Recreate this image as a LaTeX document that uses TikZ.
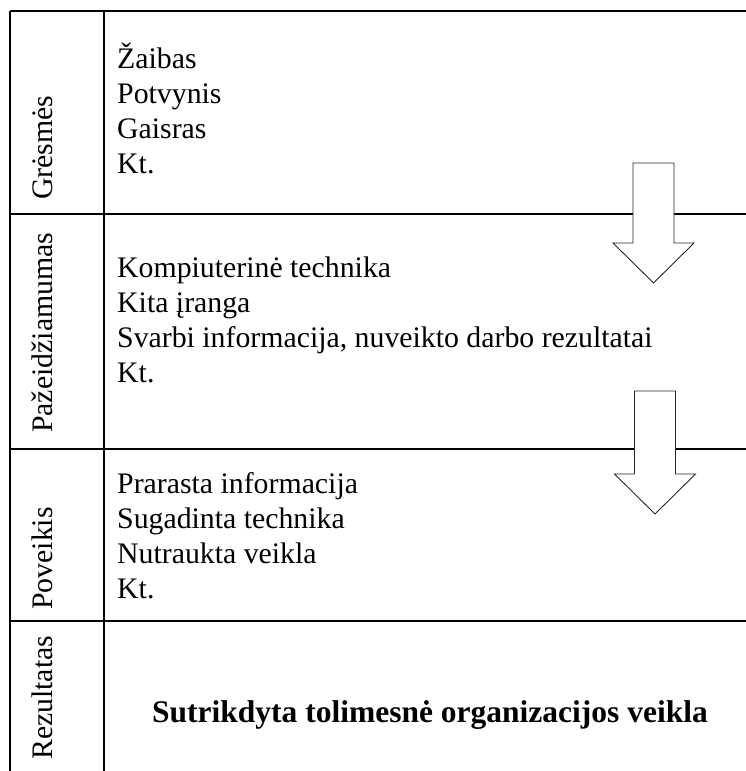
\documentclass[tikz,border=0pt]{standalone}
\usepackage{fontspec}
\setmainfont{Liberation Serif}
\usetikzlibrary{calc}

\begin{document}
\begin{tikzpicture}[
      x=1pt, y=-1pt, % pixel-like units, y downwards
      grid/.style={black, line width=1.8pt}, % Style for table lines
      pointer/.style={draw=black!85, fill=white, line width=0.9pt, line join=miter}, % Style for block arrows
      entry/.style={anchor=base west, inner sep=0pt, font=\fontsize{29.8}{35}\selectfont}, % Style for list lines
      side/.style={anchor=base west, inner sep=0pt, rotate=90, font=\fontsize{29.8}{35}\selectfont}, % Style for row titles
    ]
    \useasboundingbox (0,0) rectangle (746,771);

    % Sizes
    \def\xl{10}
    \def\xm{104}
    \def\xr{746}
    \def\xt{117}

    % Table lines
    \foreach \y in {11, 214, 449, 621}
    \draw[grid] (\xl, \y) -- (\xr, \y);
    \foreach \x in {\xl, \xm}
    \draw[grid] (\x, 11) -- (\x, 771);

    % Row titles
    \node[side] (gresmes) at (52, 200) {Grėsmės};
    \node[side] (pazeid) at (52, 433) {Pažeidžiamumas};
    \node[side] (poveik) at (52, 610) {Poveikis};
    \node[side] (rezult) at (52, 760) {Rezultatas};

    % Lists
    \foreach \t [count=\i] in {Žaibas, Potvynis, Gaisras, Kt.}
    \node[entry] (g\i) at (\xt, 68 + 35 * \i - 35) {\t};
    \foreach \t [count=\i] in {Kompiuterinė technika, Kita įranga,
        {Svarbi informacija, nuveikto darbo rezultatai}, Kt.}
    \node[entry] (p\i) at (\xt, 277 + 35 * \i - 35) {\t};
    \foreach \t [count=\i] in {Prarasta informacija, Sugadinta technika,
        Nutraukta veikla, Kt.}
    \node[entry] (v\i) at (\xt, 493 + 35 * \i - 35) {\t};

    % Result
    \node[anchor=base, inner sep=0pt, font=\fontsize{31.5}{35}\selectfont\bfseries]
    (result) at (430, 722) {Sutrikdyta tolimesnė organizacijos veikla};

    % Block arrows
    \foreach \cx/\top/\head/\tip in {653.5/163/243/283, 655/391/474/514}
    \draw[pointer] (\cx - 20.5, \top) -- (\cx + 20.5, \top) -- (\cx + 20.5, \head)
    -- (\cx + 40.5, \head) -- (\cx, \tip) -- (\cx - 40.5, \head)
    -- (\cx - 20.5, \head) -- cycle;

  \end{tikzpicture}
\end{document}
